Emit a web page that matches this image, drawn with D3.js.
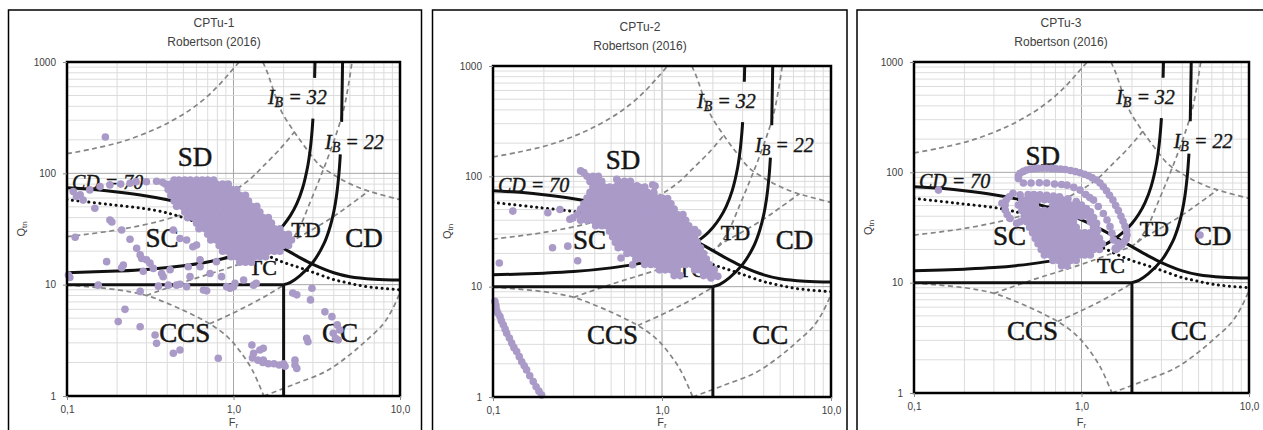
<!DOCTYPE html>
<html><head><meta charset="utf-8">
<script src="https://cdn.jsdelivr.net/npm/d3@7"></script>
<style>body{margin:0;background:#fff}svg{display:block}</style>
</head><body>
<svg id="c" width="1263" height="430"></svg>
<script>
// ---------- axis tick labels ----------
const xTickVals = [0.1, 1, 10];
const yTickVals = [1, 10, 100, 1000];
const titles = ["CPTu-1", "CPTu-2", "CPTu-3"];
const subTitle = "Robertson (2016)";

// ---------- chart background: Robertson (2016) boundaries [Fr, Qtn] ----------
const cd70 = [[0.1,74.2],[0.15,71.2],[0.2,68.1],[0.3,62.7],[0.4,57.8],[0.5,53.3],[0.7,45.8],[1.0,37],[1.2,32.5],[1.5,27.2],[2.0,21.2],[2.5,17.5],[3.0,15.2],[4.0,12.8],[5.0,11.8],[7.0,11.2],[10,11]];
const dottedLine = [[0.1,58],[0.18,52.5],[0.34,46.5],[0.5,40],[0.7,33],[1.0,26],[1.32,21],[1.9,16.3],[2.5,14.2],[3.05,12.8],[4.0,11.1],[4.55,10.6],[6.3,9.6],[10,9.0]];
const ib32 = [[0.1,12.8],[0.2,13.25],[0.3,13.7],[0.5,14.8],[0.7,16],[1.0,18.2],[1.2,20.1],[1.5,23.8],[1.8,29.2],[2.0,34.4],[2.2,41.9],[2.4,53.4],[2.6,73.8],[2.8,119],[2.9,172],[2.97,250],[3.0,310]];
const ib32Top = [[3.07,720],[3.086,1000]];
const ib22 = [[2.0,10],[2.2,10.5],[2.5,12],[3.0,15.9],[3.5,23.5],[3.8,33],[4.0,45],[4.15,62],[4.3,100],[4.38,148]];
const ib22Top = [[4.46,290],[4.52,1000]];
const q10Line = [[0.1,10],[2.0,10]];
const fr2Line = [[2.0,10],[2.0,1]];
// grey dashed background contours
const dashA = [[0.1,150],[0.14,165],[0.22,195],[0.35,255],[0.5,340],[0.65,450],[0.8,600],[0.95,800],[1.08,1000]];
const dashB = [[1.5,1000],[1.6,800],[1.78,500],[1.95,355],[2.32,235],[2.75,165],[3.3,118],[4.0,97],[4.8,83],[6.0,72],[7.5,65],[10,58]];
const dashD = [[0.1,27],[0.2,31],[0.38,38],[0.6,48],[0.96,67],[1.25,88],[1.5,115],[1.9,165],[2.32,235]];
const dashE = [[0.1,9.9],[0.2,9.0],[0.3,8.0],[0.42,6.6],[0.55,5.5],[0.72,4.45],[0.92,3.4],[1.1,2.5],[1.3,1.7],[1.52,1.0]];
const dashF = [[0.3,8.0],[0.5,10.5],[0.98,14.5],[1.5,18.3],[2.0,21.5],[2.3,25],[3.0,31.5],[4.0,41],[5.0,52],[6.5,69.5]];
const dashG = [[0.72,4.45],[0.98,5.5],[1.3,6.8],[1.65,8.3],[2.0,9.9]];
const dashH = [[2.15,23.2],[2.45,31],[2.9,56],[3.3,90],[3.7,140],[4.2,240],[4.6,380],[4.9,620],[5.15,1000]];
const dashJ = [[1.52,1.0],[2.3,1.27],[3.6,1.67],[5.0,2.35],[6.2,3.1],[7.9,4.4],[9.0,6.0],[10,8.5]];

// zone labels [text, Fr, Qtn]
const zoneLabels = [["SD",0.587,140],["SC",0.372,26.3],["TD",2.72,31],["CD",6.08,26.3],["TC",1.5,14.4],["CCS",0.51,3.68],["CC",4.37,3.68]];
const smallZone = ["TD","TC"];
const cdLabel = [0.107,83.7];
const ib32Label = [1.61,486];
const ib22Label = [3.55,191];

// ---------- CPTu-1 data [Fr, Qtn] ----------
const cptu1Rows = [
 [87,[0.44,0.47,0.51,0.55,0.6,0.65,0.70,0.76]],
 [80,[0.39,0.42,0.455,0.49,0.53,0.575,0.62,0.675,0.73,0.79,0.86,0.93]],
 [71.5,[0.405,0.44,0.47,0.51,0.55,0.6,0.65,0.70,0.76,0.82,0.895,0.965,1.045]],
 [63.5,[0.42,0.455,0.49,0.53,0.575,0.62,0.675,0.73,0.79,0.86,0.93,1.0,1.09,1.18]],
 [56.5,[0.44,0.47,0.51,0.55,0.6,0.65,0.70,0.76,0.82,0.895,0.965,1.045,1.13,1.23]],
 [50.5,[0.455,0.49,0.53,0.575,0.62,0.675,0.73,0.79,0.86,0.93,1.0,1.09,1.18,1.28,1.38]],
 [45,[0.51,0.55,0.6,0.65,0.70,0.76,0.82,0.895,0.965,1.045,1.13,1.23,1.33,1.44]],
 [40,[0.53,0.575,0.62,0.675,0.73,0.79,0.86,0.93,1.0,1.09,1.18,1.28,1.38,1.5,1.62]],
 [35.7,[0.6,0.65,0.70,0.76,0.82,0.895,0.965,1.045,1.13,1.23,1.33,1.44,1.56,1.69]],
 [31.8,[0.62,0.675,0.73,0.79,0.86,0.93,1.0,1.09,1.18,1.28,1.38,1.5,1.62,1.76,1.9]],
 [28.3,[0.70,0.76,0.82,0.895,0.965,1.045,1.13,1.23,1.33,1.44,1.56,1.69,1.83,1.98,2.14]],
 [25.2,[0.73,0.79,0.86,0.93,1.0,1.09,1.18,1.28,1.38,1.5,1.62,1.76,1.9,2.06,2.23]],
 [22.5,[0.82,0.895,0.965,1.045,1.13,1.23,1.33,1.44,1.56,1.69,1.83,1.98,2.14]],
 [20,[0.86,0.93,1.0,1.09,1.18,1.28,1.38,1.5,1.62,1.76,1.9]],
 [17.8,[0.965,1.045,1.13,1.23,1.33,1.44,1.56]],
 [15.9,[1.09,1.18,1.28]]
];
const cptu1Points = [
 [0.17,212],[0.109,68.6],[0.12,64],[0.137,71],[0.158,76],[0.181,78.7],[0.21,80],[0.239,81.4],[0.26,84],[0.3,84],[0.345,85],[0.375,83],
 [0.114,62],[0.125,57.5],[0.147,48.5],[0.181,38],[0.186,36.5],[0.112,26.7],[0.102,12.2],[0.104,11.6],
 [0.173,16.1],[0.154,9.9],[0.213,31],[0.218,15],[0.213,14.2],[0.239,25.6],[0.262,21.2],[0.275,18.5],[0.281,17.2],[0.30,16.7],[0.315,15.6],[0.33,14],[0.37,12.6],[0.378,11.8],[0.416,13.6],[0.287,13.2],[0.275,8.7],[0.354,9.7],[0.406,9.9],[0.455,9.9],[0.477,10.1],[0.523,9.6],[0.535,14.5],[0.548,11.8],[0.63,16.7],[0.63,14.5],[0.66,8.95],[0.69,8.8],[0.723,12.6],[0.79,16.1],[0.848,11.8],[0.91,9.6],[0.953,9.3],[1.0,9.6],[1.02,10.3],[1.15,11],[1.32,9.9],[1.37,10.3],
 [0.435,31],[0.477,26],[0.523,25.2],[0.57,21.9],[0.6,22.7],
 [2.27,8.4],[2.4,8.1],[2.9,7.3],[2.96,9.3],[3.54,5.7],[3.9,5.16],[4.2,4.35],[3.97,3.66],[4.35,3.92],[4.25,3.18],[4.1,3.3],[2.75,3.3],[2.8,3.07],
 [1.29,2.87],[1.32,2.42],[1.44,2.59],[1.51,2.68],[1.51,2.1],[1.3,2.2],[1.4,2.1],[1.5,2.0],[1.62,1.95],[1.75,1.95],[1.88,1.9],[2.0,1.95],[2.04,1.85],[2.34,2.1],[2.34,1.9],[2.4,1.77],
 [0.435,2.42],[0.477,2.59],[0.338,3.53],[0.345,2.97],[0.81,2.18],[0.203,4.66],[0.223,6.0],[0.275,4.19]
];

// ---------- CPTu-2 data [Fr, Qtn] ----------
const cptu2Rows = [
 [100,[0.36,0.39,0.42]],
 [90,[0.375,0.405,0.44,0.55,0.6,0.65]],
 [80,[0.39,0.42,0.455,0.49,0.53,0.575,0.62,0.675,0.73,0.79]],
 [71.5,[0.375,0.405,0.44,0.47,0.51,0.55,0.6,0.65,0.70,0.76,0.82,0.895]],
 [63.5,[0.36,0.39,0.42,0.455,0.49,0.53,0.575,0.62,0.675,0.73,0.79,0.86,0.93,1.0]],
 [56.5,[0.345,0.375,0.405,0.44,0.47,0.51,0.55,0.6,0.65,0.70,0.76,0.82,0.895,0.965,1.045,1.13]],
 [50.5,[0.33,0.36,0.39,0.42,0.455,0.49,0.53,0.575,0.62,0.675,0.73,0.79,0.86,0.93,1.0,1.09,1.18]],
 [45,[0.315,0.345,0.375,0.405,0.44,0.47,0.51,0.55,0.6,0.65,0.70,0.76,0.82,0.895,0.965,1.045,1.13,1.23,1.33]],
 [40,[0.33,0.36,0.39,0.42,0.455,0.49,0.53,0.575,0.62,0.675,0.73,0.79,0.86,0.93,1.0,1.09,1.18,1.28,1.38]],
 [35.7,[0.405,0.44,0.47,0.51,0.55,0.6,0.65,0.70,0.76,0.82,0.895,0.965,1.045,1.13,1.23,1.33,1.44]],
 [31.8,[0.49,0.53,0.575,0.62,0.675,0.73,0.79,0.86,0.93,1.0,1.09,1.18,1.28,1.38,1.5]],
 [28.3,[0.51,0.55,0.6,0.65,0.70,0.76,0.82,0.895,0.965,1.045,1.13,1.23,1.33,1.44,1.56]],
 [25.2,[0.53,0.575,0.62,0.675,0.73,0.79,0.86,0.93,1.0,1.09,1.18,1.28,1.38,1.5,1.62]],
 [22.5,[0.55,0.6,0.65,0.70,0.76,0.82,0.895,0.965,1.045,1.13,1.23,1.33,1.44,1.56,1.69]],
 [20,[0.62,0.675,0.73,0.79,0.86,0.93,1.0,1.09,1.18,1.28,1.38,1.5,1.62,1.76]],
 [17.8,[0.70,0.76,0.82,0.895,0.965,1.045,1.13,1.23,1.33,1.44,1.56,1.69,1.83]],
 [15.9,[0.79,0.86,0.93,1.0,1.09,1.18,1.28,1.38,1.5,1.62,1.76,1.9]],
 [14.2,[0.965,1.045,1.13,1.23,1.56,1.69,1.83,1.98]],
 [12.6,[1.18,1.28,1.76,1.9,2.06]]
];
const cptu2Points = [
 [0.33,112],[0.345,108],[0.131,48.4],[0.211,46.8],[0.249,50],[0.285,40.8],[0.297,42],[0.109,16.4],[0.225,22.5],[0.277,23.3],[0.317,17.2],[0.572,18.2],[0.67,15.8],[1.08,63],[0.88,84],[0.91,81.6],[0.54,94],[0.71,82],[0.78,77],
 [1.42,26.7],[1.56,33],[1.63,30.8],[1.7,20.2],[2.04,14.3],[2.14,12.4],[1.95,12.0],[1.63,14.3],[1.42,17.6],
 [0.1027,7.35],[0.104,6.75],[0.105,6.18],[0.107,5.75],[0.11,5.37],[0.112,4.9],[0.115,4.51],[0.118,4.12],[0.1205,3.79],[0.125,3.42],[0.129,3.08],[0.133,2.8],[0.138,2.58],[0.143,2.32],[0.148,2.09],[0.153,1.92],[0.158,1.76],[0.165,1.56],[0.173,1.38],[0.18,1.24],[0.187,1.13],[0.194,1.04]
];

// ---------- CPTu-3 data [Fr, Qtn] ----------
const cptu3Rows = [
 [56.5,[0.44,0.47,0.51,0.55,0.6,0.65,0.70,0.76,0.82]],
 [50.5,[0.42,0.455,0.49,0.53,0.675,0.73,0.79,0.86,0.93]],
 [45,[0.44,0.47,0.51,0.55,0.6,0.65,0.70,0.76,0.82,0.895,0.965,1.045]],
 [40,[0.455,0.49,0.53,0.575,0.62,0.675,0.73,0.79,0.86,0.93,1.0,1.09]],
 [35.7,[0.47,0.51,0.55,0.6,0.65,0.70,0.76,0.82,0.895,1.13]],
 [31.8,[0.49,0.53,0.575,0.62,0.675,0.73,0.79,0.86,0.93,1.18]],
 [28.3,[0.51,0.55,0.6,0.65,0.70,0.76,0.82,0.895,0.965,1.045,1.13,1.23]],
 [25.2,[0.53,0.575,0.62,0.675,0.73,0.79,0.86,0.93,1.0,1.09,1.18,1.28]],
 [22.5,[0.55,0.6,0.65,0.70,0.76,0.82,0.895,0.965,1.045,1.13,1.23,1.33]],
 [20,[0.575,0.62,0.675,0.73,0.79,0.86,0.93,1.0,1.09,1.18,1.28]],
 [17.8,[0.6,0.65,0.70,0.76,0.82,0.895,0.965,1.045,1.13]],
 [15.9,[0.675,0.73,0.79,0.86,0.93]],
 [14.2,[0.76,0.82]]
];
const cptu3Loop1 = [[0.42,88],[0.42,93],[0.43,98],[0.45,102],[0.47,105],[0.495,107],[0.52,108],[0.55,108.5],[0.585,109],[0.62,109],[0.66,108.5],[0.7,108],[0.75,107],[0.8,106],[0.86,104],[0.92,101.5],[0.98,99],[1.04,96],[1.1,93],[1.16,89],[1.23,85],[1.29,80],[1.35,74],[1.41,68],[1.47,62],[1.54,56],[1.6,50],[1.66,45],[1.72,40],[1.77,36],[1.82,32.5],[1.86,29.5],[1.87,27],[1.85,25],[1.8,23.5],[1.74,22],[1.67,21],[1.6,20]];
const cptu3Loop2 = [[0.45,80],[0.5,80],[0.56,80.5],[0.62,80],[0.69,78.5],[0.76,77.5],[0.82,76.5],[0.9,73],[0.98,69],[1.06,63],[1.12,59],[1.18,56],[1.26,49],[1.35,42.4],[1.42,37],[1.48,32.2],[1.52,28],[1.55,24.4]];
const cptu3Loop3 = [[0.43,62.6],[0.48,63],[0.52,63],[0.565,62.6],[0.62,62],[0.68,61],[0.74,60],[0.83,57.5],[0.93,54.4],[1.0,50.5],[1.07,47],[1.13,43.8],[1.18,39],[1.23,34.5],[1.25,30]];
const cptu3Points = [[0.39,64.6],[0.37,60],[0.355,56],[0.35,50.5],[0.35,45.6],[0.36,41.5],[0.375,38.2],[0.41,34.5],[0.335,52.4],[0.43,35.7],[0.14,69],[5.1,27],[1.59,20.5],[1.65,23]];

// ---------- drawing ----------
const svg = d3.select("#c");
const ptColor = "#a99ac8";
const sans = "Liberation Sans, Arial, sans-serif";
const serif = "Liberation Serif, Times New Roman, serif";
const panels = [
 {title:titles[0], box:[8.5,10,421.5], tx:214, l:67, r:400, t:62, b:396, rows:cptu1Rows, pts:[cptu1Points]},
 {title:titles[1], box:[432.5,10,847], tx:640, l:493, r:831, t:66, b:397, rows:cptu2Rows, pts:[cptu2Points]},
 {title:titles[2], box:[857,10,1275], tx:1061, l:914, r:1249, t:62, b:393, rows:cptu3Rows, pts:[cptu3Loop1,cptu3Loop2,cptu3Loop3,cptu3Points]}
];

panels.forEach((p, i) => {
 const g = svg.append("g");
 g.append("rect").attr("x",p.box[0]).attr("y",p.box[1]).attr("width",p.box[2]-p.box[0]).attr("height",440)
  .attr("fill","#fff").attr("stroke","#000").attr("stroke-width",1.5);

 const x = d3.scaleLog().domain([0.1,10]).range([p.l,p.r]);
 const y = d3.scaleLog().domain([1,1000]).range([p.b,p.t]);

 // titles
 g.append("text").attr("x",p.tx).attr("y",p.t-35).attr("text-anchor","middle")
  .attr("font-family",sans).attr("font-size",12).attr("fill","#404040").text(p.title);
 g.append("text").attr("x",p.tx).attr("y",p.t-16.5).attr("text-anchor","middle")
  .attr("font-family",sans).attr("font-size",12).attr("fill","#404040").text(subTitle);

 const clipId = "clip"+i;
 g.append("clipPath").attr("id",clipId).append("rect").attr("x",p.l).attr("y",p.t).attr("width",p.r-p.l).attr("height",p.b-p.t);
 const plot = g.append("g").attr("clip-path",`url(#${clipId})`);

 // grid
 const major = v => Math.abs(Math.log10(v) - Math.round(Math.log10(v))) < 1e-6;
 plot.selectAll(".vg").data(x.ticks()).join("line")
  .attr("x1",d=>x(d)).attr("x2",d=>x(d)).attr("y1",p.t).attr("y2",p.b)
  .attr("stroke",d=>major(d)?"#a6a6a6":"#dcdcdc").attr("stroke-width",1);
 plot.selectAll(".hg").data(y.ticks()).join("line")
  .attr("y1",d=>y(d)).attr("y2",d=>y(d)).attr("x1",p.l).attr("x2",p.r)
  .attr("stroke",d=>major(d)?"#a6a6a6":"#dcdcdc").attr("stroke-width",1);

 const line = d3.line().x(d=>x(d[0])).y(d=>y(d[1])).curve(d3.curveCatmullRom.alpha(0.5));

 // dashed grey contours
 [dashA,dashB,dashD,dashE,dashF,dashG,dashH,dashJ].forEach(c => {
  plot.append("path").attr("d",line(c)).attr("fill","none").attr("stroke","#858585")
   .attr("stroke-width",1.7).attr("stroke-dasharray","5,3.5");
 });
 // solid boundaries
 [cd70,ib32,ib32Top,ib22,ib22Top,q10Line,fr2Line].forEach(c => {
  plot.append("path").attr("d",line(c)).attr("fill","none").attr("stroke","#111")
   .attr("stroke-width",3);
 });
 plot.append("path").attr("d",line(dottedLine)).attr("fill","none").attr("stroke","#111")
  .attr("stroke-width",3).attr("stroke-linecap","round").attr("stroke-dasharray","0.1,5.4");

 // zone labels
 zoneLabels.forEach(([t,f,q]) => {
  plot.append("text").attr("x",x(f)).attr("y",y(q)).attr("text-anchor","middle").attr("dominant-baseline","central")
   .attr("font-family",serif).attr("font-size",smallZone.includes(t)?22:27)
   .attr("fill","#151515").attr("stroke","#151515").attr("stroke-width",0.5).text(t);
 });
 plot.append("text").attr("x",x(cdLabel[0])).attr("y",y(cdLabel[1])).attr("dominant-baseline","central")
  .attr("font-family",serif).attr("font-style","italic").attr("font-size",20)
  .attr("fill","#151515").attr("stroke","#151515").attr("stroke-width",0.4).text("CD = 70");
 [[ib32Label,"32"],[ib22Label,"22"]].forEach(([pos,v]) => {
  const t = plot.append("text").attr("x",x(pos[0])).attr("y",y(pos[1])).attr("dominant-baseline","central")
   .attr("font-family",serif).attr("font-style","italic").attr("font-size",20)
   .attr("fill","#151515").attr("stroke","#151515").attr("stroke-width",0.4);
  t.append("tspan").text("I");
  t.append("tspan").attr("font-size",14).attr("dy",5).text("B");
  t.append("tspan").attr("dy",-5).text(" = "+v);
 });

 // scatter
 const allPts = p.rows.flatMap(([q,fs]) => fs.map(f => [f,q])).concat(...p.pts);
 g.append("g").selectAll("circle").data(allPts).join("circle")
  .attr("cx",d=>x(d[0])).attr("cy",d=>y(d[1])).attr("r",3.8).attr("fill",ptColor);

 // frame
 g.append("rect").attr("x",p.l).attr("y",p.t).attr("width",p.r-p.l).attr("height",p.b-p.t)
  .attr("fill","none").attr("stroke","#000").attr("stroke-width",2.5);

 // axes
 const ax = g.append("g").attr("transform",`translate(0,${p.b})`)
  .call(d3.axisBottom(x).tickValues(xTickVals).tickSize(4).tickPadding(6)
   .tickFormat(d => d3.format(".1f")(d).replace(".",",")));
 const ay = g.append("g").attr("transform",`translate(${p.l},0)`)
  .call(d3.axisLeft(y).tickValues(yTickVals).tickSize(4).tickPadding(7).tickFormat(d3.format("d")));
 [ax,ay].forEach(a => {
  a.select(".domain").remove();
  a.selectAll("line").attr("stroke","#888");
  a.selectAll("text").attr("font-family",sans).attr("font-size",10).attr("fill","#404040");
 });

 // axis titles
 const yl = g.append("text").attr("transform",`translate(${p.l-42},${(p.t+p.b)/2}) rotate(-90)`)
  .attr("text-anchor","middle").attr("font-family",sans).attr("font-size",11).attr("fill","#404040");
 yl.append("tspan").text("Q");
 yl.append("tspan").attr("font-size",8).attr("dy",2).text("tn");
 const xl = g.append("text").attr("x",(p.l+p.r)/2).attr("y",Math.min(p.b+33,426)).attr("text-anchor","middle")
  .attr("font-family",sans).attr("font-size",11).attr("fill","#404040");
 xl.append("tspan").text("F");
 xl.append("tspan").attr("font-size",8).attr("dy",1.5).text("r");
});
</script>
</body></html>
